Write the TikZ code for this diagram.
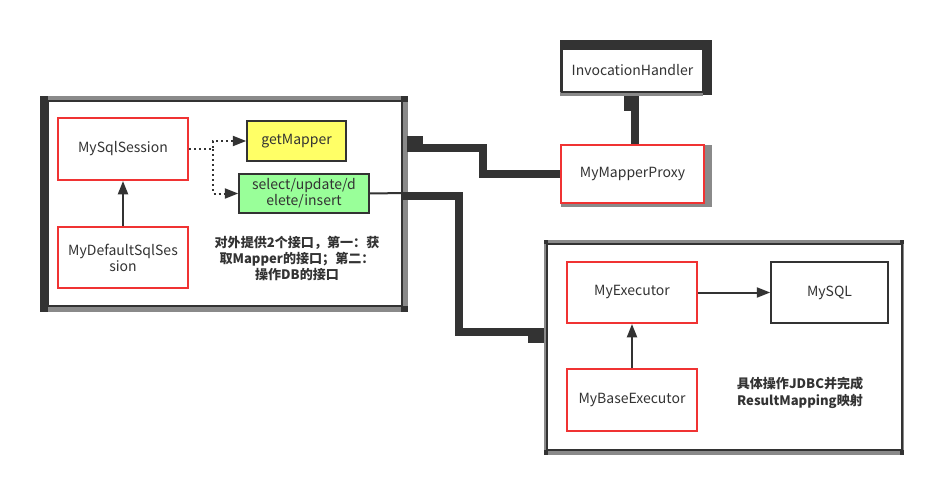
\documentclass[tikz,border=0pt]{standalone}
\usepackage{fontspec}
\setmainfont{Noto Sans CJK SC}
\usetikzlibrary{arrows.meta,calc}
\definecolor{darkc}{HTML}{333333}
\definecolor{redc}{HTML}{F03333}
\definecolor{grayc}{HTML}{8A8A8A}
\definecolor{yelc}{HTML}{FFFF66}
\definecolor{grnc}{HTML}{99FF99}
\tikzset{
  box/.style={draw=darkc, line width=1.2pt, fill=white, inner sep=0pt, text=darkc, align=center, font=\fontsize{10.5}{12}\selectfont},
  redbox/.style={box, draw=redc, line width=1.5pt},
  container/.style={draw=darkc, line width=1.2pt, fill=white, inner sep=0pt},
  arr/.style={draw=darkc, line width=1.5pt, -{Triangle[length=10pt,width=7.5pt]}},
  dotarr/.style={draw=darkc, line width=1.5pt, dash pattern=on 1.5pt off 2.25pt, -{Triangle[length=10pt,width=7.5pt]}},
  heavy/.style={draw=darkc, line width=6pt},
  note/.style={text=darkc, align=center, font=\bfseries\fontsize{9.8}{12}\selectfont}
}
\begin{document}
\begin{tikzpicture}[x=0.75pt,y=-0.75pt]
\useasboundingbox (0,0) rectangle (933,482);
\fill[white] (0,0) rectangle (933,482);
% left container frame
\fill[grayc] (40,96) rectangle (408,312);
\fill[darkc] (40,96) rectangle (48,312);
\fill[darkc] (401,96) rectangle (408,102);
\fill[darkc] (401,306) rectangle (408,312);
\node[container, minimum width=265.5pt, minimum height=153.75pt] (leftbox) at (225,203.5) {};
% right container frame
\fill[grayc] (544,240) rectangle (904,455);
\fill[darkc] (544,240) rectangle (548,244);
\fill[darkc] (900,240) rectangle (904,244);
\fill[darkc] (544,450) rectangle (548,455);
\fill[darkc] (900,450) rectangle (904,455);
\node[container, minimum width=266.25pt, minimum height=154.5pt] (rightbox) at (724.5,347) {};
% InvocationHandler frame
\fill[darkc] (560,40) rectangle (712,95);
\fill[grayc] (560,92) rectangle (703,96);
\node[box, minimum width=105.75pt, minimum height=32.25pt] (inv) at (632.5,70.5) {InvocationHandler};
% MyMapperProxy shadow
\fill[grayc] (561,145) rectangle (712,207);
\node[redbox, minimum width=107.25pt, minimum height=43.5pt] (proxy) at (632.5,174) {MyMapperProxy};
% left nodes
\node[redbox, minimum width=97.5pt, minimum height=46.5pt] (sess) at (123,149) {MySqlSession};
\node[redbox, minimum width=97.5pt, minimum height=45.75pt] (dsess) at (123,257.5) {MyDefaultSqlSes\\sion};
\node[box, fill=yelc, minimum width=74.25pt, minimum height=30pt] (getm) at (296.5,141) {getMapper};
\node[box, fill=grnc, minimum width=97.5pt, minimum height=29.25pt] (sel) at (304,193.5) {select/update/d\\elete/insert};
\node[note] (txt1) at (297,258) {对外提供2个接口，第一：获\\取Mapper的接口；第二：\\操作DB的接口};
% right nodes
\node[redbox, minimum width=97.5pt, minimum height=45.75pt] (exec) at (632,292.5) {MyExecutor};
\node[box, minimum width=87.75pt, minimum height=45.75pt] (mysql) at (829.5,292.5) {MySQL};
\node[redbox, minimum width=97.5pt, minimum height=46.5pt] (base) at (632,400) {MyBaseExecutor};
\node[note, font=\bfseries\fontsize{9.8}{13}\selectfont] (txt2) at (800,393) {具体操作JDBC并完成\\ResultMapping映射};
% connectors inside
\draw[arr] (dsess.north) -- (sess.south);
\draw[arr] (base.north) -- (exec.south);
\draw[arr] (exec.east) -- (mysql.west);
\coordinate (split) at (213,149);
\draw[dotarr] (sess.east) -- (split) |- (getm.west);
\draw[dotarr] (split) |- (sel.west);
% heavy connectors
\coordinate (pin1) at (408,148);
\draw[heavy] (proxy.west) -- ++(-77,0) |- (pin1);
\fill[darkc] (407,136) rectangle (423,152);
\coordinate (pin2) at (635,96);
\draw[heavy] (proxy.north -| pin2) -- (pin2);
\fill[darkc] (624,96) rectangle (639,111);
\coordinate (thinend) at (405,193);
\draw[darkc, line width=1.5pt] (sel.east) -- (thinend);
\coordinate (bend) at (459,196);
\coordinate (pin3) at (544,332);
\draw[heavy] (403,196) -- (bend) |- (pin3);
\fill[darkc] (528,328) rectangle (544,343);
\end{tikzpicture}
\end{document}
